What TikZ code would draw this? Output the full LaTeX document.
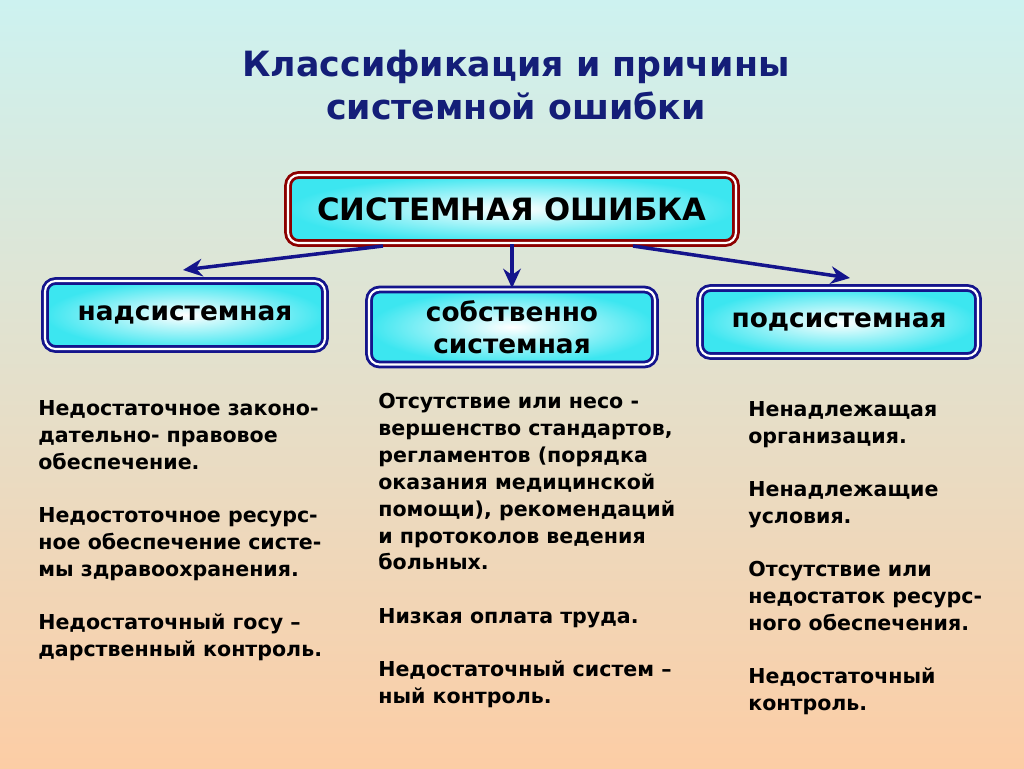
\documentclass[tikz,border=0pt]{standalone}
\usepackage{fontspec}
\setmainfont{DejaVu Sans}
\usetikzlibrary{positioning,arrows.meta}
\definecolor{navy}{RGB}{20,20,140}
\definecolor{boxcyan}{RGB}{60,230,240}
\definecolor{titleblue}{RGB}{20,30,120}
\definecolor{topbg}{RGB}{205,242,240}
\definecolor{botbg}{RGB}{252,205,165}
\tikzset{
  catbox/.style={draw=navy, line width=1.6pt, double=white, double distance=1.2pt,
    rounded corners=6pt, inner color=white, outer color=boxcyan, font=\bfseries\fontsize{15}{18}\selectfont,
    align=center},
  topbox/.style={catbox, draw=red!55!black, font=\bfseries\fontsize{17.5}{20}\selectfont},
  reason/.style={anchor=north west, align=left, inner sep=0pt, font=\bfseries\fontsize{11.7}{15.3}\selectfont},
  link/.style={draw=navy, line width=2pt, -{Stealth[length=11pt,width=10pt]}}
}
\begin{document}
\begin{tikzpicture}[x=0.02cm,y=-0.02cm]
\shade[top color=topbg, bottom color=botbg] (0,0) rectangle (1024,768);
\useasboundingbox (0,0) rectangle (1024,768);

% title
\node[font=\bfseries\fontsize{19.8}{25}\selectfont, text=titleblue, align=center] (title) at (516,85)
  {Классификация и причины\\системной ошибки};

% boxes
\node[topbox, minimum width=8.96cm, minimum height=1.36cm] (main) at (512,209) {СИСТЕМНАЯ ОШИБКА};
\node[catbox, minimum width=5.6cm, minimum height=1.36cm] (over) at (185,315) {надсистемная};
\node[catbox, minimum width=5.72cm, minimum height=1.5cm] (own) at (512,327) {собственно\\системная};
\node[catbox, minimum width=5.56cm, minimum height=1.36cm] (under) at (839,322) {подсистемная};

% arrows
\coordinate (m1) at (383,246);
\coordinate (m3) at (633,246);
\draw[link] (m1) -- (183,270);
\draw[link] (main.south) -- (own.north);
\draw[link] (m3) -- (850,278);

% reasons
\node[reason] (r1) at (38,400) {Недостаточное законо-\\дательно- правовое\\обеспечение.\\[15pt]
Недостоточное ресурс-\\ное обеспечение систе-\\мы здравоохранения.\\[15pt]
Недостаточный госу –\\дарственный контроль.};
\node[reason] (r2) at (378,393) {Отсутствие или несо -\\вершенство стандартов,\\регламентов (порядка\\оказания медицинской\\помощи), рекомендаций\\и протоколов ведения\\больных.\\[15pt]
Низкая оплата труда.\\[15pt]
Недостаточный систем –\\ный контроль.};
\node[reason] (r3) at (748,401) {Ненадлежащая\\организация.\\[15pt]
Ненадлежащие\\условия.\\[15pt]
Отсутствие или\\недостаток ресурс-\\ного обеспечения.\\[15pt]
Недостаточный\\контроль.};
\end{tikzpicture}
\end{document}
